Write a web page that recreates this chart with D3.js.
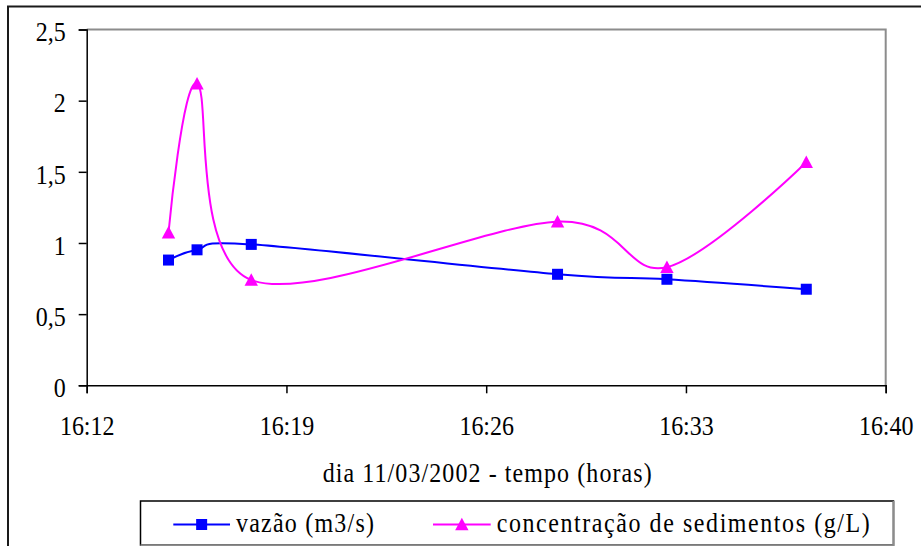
<!DOCTYPE html>
<html>
<head>
<meta charset="utf-8">
<script src="https://cdn.jsdelivr.net/npm/d3@7"></script>
<style>
  body { margin: 0; background: #fff; }
  svg { display: block; }
</style>
</head>
<body>
<svg id="chart" width="921" height="546"></svg>
<script>
// Sample times on 11/03/2002 and measured values
const sampleTimes = ["16:14:52", "16:15:52", "16:17:46", "16:28:30", "16:32:20", "16:37:13"];
const vazao = [0.88, 0.952, 0.99, 0.78, 0.745, 0.675];           // m3/s
const sedimentos = [1.072, 2.12, 0.74, 1.15, 0.83, 1.567];       // g/L

const xTickLabels = ["16:12", "16:19", "16:26", "16:33", "16:40"];
const yTicks = [0, 0.5, 1, 1.5, 2, 2.5];

const seriesNames = ["vazão (m3/s)", "concentração de sedimentos (g/L)"];
const xTitle = "dia 11/03/2002 - tempo (horas)";

const parseTime = d3.timeParse("%Y-%m-%d %H:%M:%S");
const toDate = t => parseTime("2002-03-11 " + (t.length === 5 ? t + ":00" : t));

const ptFormat = d3.formatLocale({ decimal: ",", thousands: ".", grouping: [3], currency: ["", ""] }).format("~g");

const FONT_FAMILY = '"Liberation Serif"';
const FONT = 24;
const STRETCH = 1.12;   // slightly tall glyphs

const svg = d3.select("#chart");

function serif(sel) {
  return sel.style("font-family", FONT_FAMILY).attr("font-size", FONT).attr("fill", "#000");
}

// Plot area bounds
const plotLeft = 86.7, plotRight = 885.7, plotTop = 29.5, plotBottom = 385.3;

const x = d3.scaleTime()
  .domain([toDate(xTickLabels[0]), toDate(xTickLabels[xTickLabels.length - 1])])
  .range([plotLeft, plotRight]);
const y = d3.scaleLinear().domain([0, 2.5]).range([plotBottom, plotTop]);

// Outer chart frame
svg.append("rect")
  .attr("x", 8).attr("y", 6.5).attr("width", 940).attr("height", 560)
  .attr("fill", "none").attr("stroke", "#1a1a1a").attr("stroke-width", 2);

// Plot area frame (grey top/right)
svg.append("path")
  .attr("d", `M${plotLeft},${plotTop}H${plotRight}V${plotBottom}`)
  .attr("fill", "none").attr("stroke", "#8c8c8c").attr("stroke-width", 2);

function styleAxis(g) {
  g.select(".domain").attr("stroke", "#000").attr("stroke-width", 1.5);
  g.selectAll(".tick line").attr("stroke", "#000").attr("stroke-width", 1.5);
  g.selectAll(".tick text").call(serif);
}

// Y axis
const yAxis = svg.append("g")
  .attr("transform", `translate(${plotLeft},0)`)
  .call(d3.axisLeft(y).tickValues(yTicks).tickSize(8).tickPadding(13).tickFormat(ptFormat))
  .call(styleAxis);
yAxis.selectAll(".tick text")
  .attr("dy", "0.42em")
  .attr("transform", `scale(1,${STRETCH})`);

// X axis
const xAxis = svg.append("g")
  .attr("transform", `translate(0,${plotBottom})`)
  .call(d3.axisBottom(x).tickValues(xTickLabels.map(toDate)).tickSize(8)
    .tickFormat(d3.timeFormat("%H:%M")))
  .call(styleAxis);
xAxis.selectAll(".tick text")
  .attr("y", 50.2 / STRETCH).attr("dy", 0)
  .attr("transform", `scale(1,${STRETCH})`);

// Places a stretched text with its baseline at (tx, ty)
function label(parent, tx, ty, str, opts = {}) {
  const t = parent.append("text")
    .attr("transform", `translate(${tx},${ty}) scale(1,${STRETCH})`)
    .call(serif)
    .attr("text-anchor", opts.anchor || "start")
    .text(str);
  if (opts.length) t.attr("textLength", opts.length).attr("lengthAdjust", "spacing");
  return t;
}

// X axis title
label(svg, 322.7, 481.5, xTitle, { length: 329 });

const line = d3.line()
  .x(d => x(d.t)).y(d => y(d.v))
  .curve(d3.curveCardinal.tension(0));

const colors = ["#0000ff", "#ff00ff"];
const series = [vazao, sedimentos].map((vals, i) => ({
  name: seriesNames[i],
  color: colors[i],
  points: vals.map((v, j) => ({ t: toDate(sampleTimes[j]), v }))
}));

const SQ = 11;
const triPath = "M0,-6.7L6.7,5.8L-6.7,5.8Z";

series.forEach(s => {
  svg.append("path")
    .attr("d", line(s.points))
    .attr("fill", "none").attr("stroke", s.color).attr("stroke-width", 2);
});

function marker(g, i, color) {
  if (i === 0) {
    g.append("rect").attr("x", -SQ / 2).attr("y", -SQ / 2)
      .attr("width", SQ).attr("height", SQ).attr("fill", color);
  } else {
    g.append("path").attr("d", triPath).attr("fill", color);
  }
}

series.forEach((s, i) => {
  s.points.forEach(p => {
    const g = svg.append("g").attr("transform", `translate(${x(p.t)},${y(p.v)})`);
    marker(g, i, s.color);
  });
});

// Legend
const lg = svg.append("g");
lg.append("rect")
  .attr("x", 140.5).attr("y", 501).attr("width", 753).attr("height", 44)
  .attr("fill", "#fff").attr("stroke", "#000").attr("stroke-width", 1.5);
lg.append("path")
  .attr("d", "M893.5,501V545.3H140.5")
  .attr("fill", "none").attr("stroke", "#8c8c8c").attr("stroke-width", 2);

const legendItems = [
  { x1: 173.3, x2: 230, tx: 236, len: 138 },
  { x1: 433, x2: 490.7, tx: 496.7, len: 373 }
];
series.forEach((s, i) => {
  const it = legendItems[i];
  const ly = 524.5;
  lg.append("line").attr("x1", it.x1).attr("x2", it.x2).attr("y1", ly).attr("y2", ly)
    .attr("stroke", s.color).attr("stroke-width", 2);
  const g = lg.append("g").attr("transform", `translate(${(it.x1 + it.x2) / 2},${ly})`);
  marker(g, i, s.color);
  label(lg, it.tx, 532, s.name, { length: it.len });
});
</script>
</body>
</html>
